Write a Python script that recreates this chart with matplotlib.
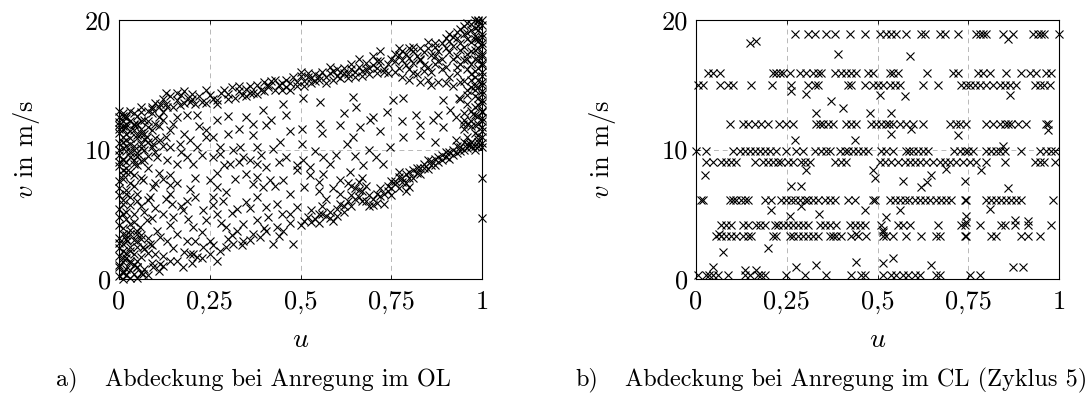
import matplotlib
matplotlib.use("Agg")
import matplotlib.pyplot as plt

plt.rcParams['mathtext.fontset'] = 'cm'
plt.rcParams['axes.formatter.use_mathtext'] = True

# ---------------- Panel a data (u, v) ----------------
a_left = [(0.00,0.2),(0.01,0.5),(0.02,0.3),(0.00,0.9),(0.03,0.7),(0.01,1.3),(0.04,1.1),(0.00,1.8),(0.02,1.6),(0.05,1.4),
          (0.01,2.2),(0.03,2.5),(0.00,2.8),(0.02,3.1),(0.05,2.9),(0.01,3.5),(0.03,3.8),(0.00,4.2),(0.02,4.6),(0.04,4.4),
          (0.01,5.0),(0.00,5.4),(0.03,5.7),(0.01,6.1),(0.00,6.5),(0.02,6.9),(0.04,7.2),(0.00,7.6),(0.01,8.0),(0.03,8.3),
          (0.00,8.7),(0.02,9.0),(0.05,8.8),(0.01,9.3),(0.00,9.6),(0.03,9.8),(0.01,10.1),(0.04,10.3),(0.00,10.5),(0.02,10.7),
          (0.05,10.9),(0.01,11.0),(0.00,11.3),(0.03,11.4),(0.02,11.7),(0.00,11.9),(0.01,12.2),(0.04,12.0),(0.00,12.5),(0.02,12.4),
          (0.01,12.8),(0.06,11.6),(0.07,12.3),(0.05,12.6),(0.08,13.0),(0.06,13.3),(0.09,12.8),(0.07,11.2),(0.06,10.1),(0.08,10.6),
          (0.05,9.5),(0.07,9.2),(0.06,7.8),(0.05,6.6),(0.07,5.2),(0.06,3.4),(0.08,2.0),(0.07,0.8),(0.09,1.2),(0.03,0.1),
          (0.00,10.0),(0.01,11.6),(0.02,12.0),(0.00,12.1),
          (0.02,8.6),(0.04,8.9),(0.06,9.1),(0.01,9.2),(0.03,9.4),(0.05,9.7),(0.08,9.5),(0.02,9.9),(0.04,10.0),(0.06,10.4),
          (0.09,10.2),(0.01,10.6),(0.03,10.9),(0.07,10.8),(0.10,10.9),(0.02,11.2),(0.04,11.5),(0.06,11.3),(0.09,11.5),(0.01,11.8),
          (0.03,12.2),(0.05,12.0),(0.08,12.2),(0.10,12.0),(0.02,12.6),(0.04,12.8),(0.06,12.9),(0.11,12.5),(0.12,12.9),(0.03,13.0),
          (0.00,13.0),(0.01,12.6),(0.05,11.1),(0.07,10.0),(0.03,10.4),(0.00,9.0),(0.01,8.4),(0.04,9.2),(0.10,9.8),(0.12,10.3),
          (0.13,11.0),(0.11,11.8),(0.14,11.5),(0.15,12.0),(0.09,13.3),(0.04,11.9),(0.02,10.3),(0.06,12.2),(0.08,11.7),(0.00,11.6),
          (0.01,0.0),(0.02,0.8),(0.04,0.4),(0.05,0.9),(0.00,1.1),(0.03,1.2),(0.06,0.5),(0.01,1.6),(0.04,1.9),(0.06,1.7),
          (0.02,2.0),(0.00,2.4),(0.03,2.2),(0.05,2.5),(0.07,2.3),(0.01,2.7),(0.04,3.0),(0.02,3.4),(0.06,3.1),(0.00,3.2),
          (0.03,3.5),(0.01,3.9),(0.05,3.7),(0.08,3.2),(0.09,2.6),(0.10,1.9),(0.11,0.6),(0.12,1.0),(0.08,0.3),(0.05,0.1),
          (0.00,4.8),(0.02,5.2),(0.04,5.0),(0.01,5.8),(0.03,6.3),(0.05,6.0),(0.02,6.6),(0.00,7.0),(0.03,7.4),(0.01,7.7),
          (0.04,8.0),(0.02,8.3),(0.06,5.6),(0.08,6.1),(0.09,4.7),(0.10,7.4),(0.11,8.2),(0.08,8.6)]

a_upper = [(0.10,13.6),(0.12,13.9),(0.14,14.1),(0.16,13.8),(0.17,14.2),(0.19,14.0),(0.20,14.3),(0.22,14.1),(0.23,13.7),(0.25,14.2),
           (0.26,13.9),(0.28,14.4),(0.29,14.6),(0.30,14.3),(0.31,14.8),(0.33,14.5),(0.34,14.2),(0.35,14.7),(0.36,14.9),(0.37,14.4),
           (0.38,15.0),(0.39,14.6),(0.40,15.2),(0.41,14.8),(0.42,15.3),(0.44,15.0),(0.45,14.6),(0.46,15.4),(0.47,15.1),(0.48,15.6),
           (0.49,15.2),(0.50,15.7),(0.51,15.3),(0.52,15.9),(0.53,15.5),(0.54,15.8),(0.55,15.4),(0.56,16.0),(0.57,15.6),(0.58,15.9),
           (0.59,16.1),(0.60,15.7),(0.61,16.0),(0.62,16.3),(0.63,15.8),(0.64,16.2),(0.65,16.0),(0.66,16.4),(0.67,16.1),(0.68,16.7),
           (0.69,16.3),(0.70,16.5),(0.71,15.9),(0.72,16.8),(0.73,16.2),(0.74,16.6),(0.75,17.0),(0.76,16.8),(0.77,17.3),(0.78,16.9),
           (0.79,17.4),(0.80,17.1),(0.81,17.6),(0.82,17.2),(0.83,17.0),(0.84,17.5),(0.85,17.8),(0.86,17.3),(0.87,17.9),(0.88,17.6),
           (0.89,18.2),(0.90,17.8),(0.91,18.4),(0.92,18.0),(0.93,18.6),(0.94,18.2),(0.95,18.9),(0.96,18.5),(0.97,19.2),(0.98,18.8),
           (0.99,19.5),(0.97,19.7),(0.98,20.0),(0.99,19.9),
           (0.76,16.0),(0.78,15.6),(0.80,16.2),(0.82,15.8),(0.84,16.5),(0.86,16.0),(0.88,16.8),(0.90,16.4),(0.92,17.0),(0.94,16.6),
           (0.96,17.4),(0.85,15.4),(0.88,15.2),(0.91,15.6),(0.93,15.9),(0.95,15.3),(0.97,15.8),(0.79,16.5),(0.83,16.9),(0.87,17.2),
           (0.91,17.5),(0.94,17.7),(0.89,16.2),(0.76,17.4),(0.80,17.8),(0.70,17.2),(0.66,17.0),(0.72,17.6),
           (0.09,13.1),(0.11,13.3),(0.13,13.5),(0.15,13.3),(0.18,13.6),(0.21,13.5),(0.24,13.6),(0.27,13.8),(0.30,13.9),(0.32,14.0),
           (0.35,14.1),(0.38,14.3),(0.40,14.5),(0.43,14.6),(0.45,15.1),(0.47,14.6),(0.49,14.9),(0.51,14.9),(0.53,15.1),(0.55,15.7),
           (0.57,15.1),(0.59,15.4),(0.61,15.5),(0.63,15.5),(0.65,15.6),(0.67,15.7),(0.69,15.8),(0.71,16.3),(0.73,16.0),(0.74,15.9),
           (0.13,14.4),(0.18,14.5),(0.24,14.6),(0.33,14.9),(0.43,15.4),(0.50,16.0),(0.58,16.4),(0.64,16.6),(0.71,16.8),(0.27,13.5),
           (0.36,14.4),(0.41,15.0),(0.52,15.6),(0.60,16.2),(0.68,16.2),(0.20,13.9),(0.16,14.4),(0.46,14.8),(0.54,15.3),(0.62,15.9),
           (0.77,16.3),(0.81,16.7),(0.85,16.4),(0.89,17.0),(0.93,17.2),(0.95,17.9),(0.97,18.3),(0.99,18.6),(0.96,19.0),(0.98,19.4),
           (0.95,19.5),(0.93,19.1),(0.91,18.9),(0.90,18.6),(0.92,18.7),(0.94,19.3),(0.96,19.8),(0.99,20.0),(1.00,20.0),(0.87,18.2),
           (0.85,18.3),(0.83,17.8),(0.81,17.9),(0.78,17.6),(0.77,17.8),(0.80,15.4),(0.83,15.2),(0.86,15.0),(0.90,15.1),(0.92,14.9),
           (0.94,15.2),(0.96,14.6),(0.98,14.9),(0.93,16.4),(0.95,16.9),(0.97,16.6),(0.99,17.2),(0.87,16.6),(0.84,16.1),(0.81,15.9)]

a_right = [(1.00,10.2),(0.99,10.6),(1.00,11.0),(0.98,11.3),(1.00,11.7),(0.99,12.0),(1.00,12.4),(0.98,12.7),(1.00,13.0),(0.99,13.4),
           (1.00,13.8),(0.98,14.1),(1.00,14.5),(0.99,14.8),(1.00,15.2),(0.98,15.6),(1.00,16.0),(0.99,16.3),(1.00,16.7),(0.98,17.0),
           (1.00,17.4),(0.99,17.8),(1.00,18.2),(0.98,18.5),(1.00,18.9),(0.99,19.2),(1.00,19.6),(0.97,12.2),(0.96,13.5),(0.97,14.8),
           (0.96,16.2),(0.97,17.6),(0.96,11.0),(1.00,7.8),(1.00,4.7),(0.95,12.8),(0.94,13.9),(0.95,11.6),
           (1.00,10.5),(0.99,11.1),(1.00,11.4),(0.98,11.9),(1.00,12.2),(0.99,12.6),(1.00,12.9),(0.98,13.3),(1.00,13.6),(0.99,14.0),
           (1.00,14.3),(0.98,14.6),(1.00,15.0),(0.99,15.4),(1.00,15.7),(0.98,16.1),(1.00,16.5),(0.99,16.9),(1.00,17.2),(0.98,17.7),
           (1.00,18.0),(0.99,18.4),(1.00,18.7),(0.97,13.0),(0.96,14.2),(0.97,15.4),(0.96,17.0),(0.97,11.8),(0.95,12.3),(0.96,12.0)]

a_chain = [(0.74,7.2),(0.75,7.6),(0.76,7.3),(0.77,7.9),(0.78,7.5),(0.79,8.1),(0.80,7.8),(0.81,8.4),(0.82,8.2),(0.83,8.6),
           (0.84,8.9),(0.85,8.5),(0.86,9.1),(0.87,9.3),(0.88,9.0),(0.89,9.6),(0.90,9.4),(0.91,9.8),(0.92,10.0),(0.93,9.7),
           (0.94,10.2),(0.95,10.0),(0.96,10.4),(0.97,10.6),(0.98,10.3),(0.99,10.8),(0.77,7.0),(0.79,6.8),(0.80,7.1),(0.75,6.5),
           (0.50,4.2),(0.52,4.8),(0.53,5.3),(0.54,4.6),(0.55,5.0),(0.56,5.6),(0.57,4.9),(0.58,5.2),(0.59,4.5),(0.60,5.4),
           (0.61,5.8),(0.62,5.2),(0.63,6.0),(0.64,6.5),(0.65,7.0),(0.66,6.3),(0.66,7.5),(0.67,6.8),(0.68,7.2),(0.68,6.0),
           (0.69,5.6),(0.70,6.2),(0.71,5.9),(0.72,6.4),(0.73,5.8),(0.63,7.4),(0.61,6.6),(0.59,7.0),(0.57,6.2),(0.55,6.8),
           (0.75,7.0),(0.76,7.6),(0.78,7.8),(0.80,8.3),(0.82,8.6),(0.84,8.6),(0.86,8.8),(0.88,9.4),(0.90,9.8),(0.92,9.6),
           (0.94,9.9),(0.96,10.1),(0.98,10.0),(0.99,10.3),(0.74,6.8),(0.73,6.6),(0.72,7.0),(0.77,8.3),(0.79,7.4),(0.81,7.8),
           (0.83,8.1),(0.85,9.2),(0.87,8.8),(0.89,9.2),(0.91,9.3),(0.93,10.3),(0.95,10.6),(0.97,10.2),
           (0.51,4.5),(0.53,4.4),(0.55,4.3),(0.56,5.0),(0.58,4.7),(0.60,4.9),(0.62,5.6),(0.64,5.6),(0.65,6.2),(0.67,6.0),
           (0.69,6.5),(0.70,5.7),(0.71,6.6),(0.66,6.9),(0.64,7.2),(0.67,7.8)]

a_inner = [(0.122,12.26),(0.159,12.52),(0.186,12.65),(0.214,12.65),(0.241,11.48),(0.269,12.26),(0.301,11.23),(0.351,12.52),
           (0.406,11.87),(0.461,12.65),(0.503,11.61),(0.553,12.0),(0.608,11.87),(0.663,11.74),(0.70,12.52),(0.737,12.9),
           (0.691,12.26),(0.819,12.65),(0.865,12.26),(0.893,11.74),(0.929,12.52),(0.948,12.0),(0.975,12.77),
           (0.397,13.03),(0.452,13.55),(0.507,13.94),(0.553,13.68),(0.645,14.06),(0.654,13.29),(0.755,13.81),(0.783,13.94),
           (0.893,13.81),(0.938,13.94),(0.911,13.03),(0.131,13.29),(0.113,13.55),(0.168,13.42),(0.195,13.68),
           (0.076,10.97),(0.094,10.45),(0.113,10.71),(0.14,10.19),(0.168,10.45),(0.195,10.71),(0.214,10.19),(0.241,10.97),
           (0.278,10.19),(0.315,9.94),(0.333,10.19),(0.37,11.1),(0.379,10.19),(0.425,10.06),(0.443,10.58),(0.503,10.45),
           (0.627,10.45),(0.645,10.97),(0.746,10.19),(0.783,10.97),(0.828,11.1),(0.87,10.58),(0.929,10.71),(0.966,10.45),
           (0.104,9.42),(0.131,9.16),(0.159,8.9),(0.186,9.42),(0.205,8.9),(0.26,9.42),(0.278,9.68),(0.306,8.9),(0.342,9.42),
           (0.361,9.16),(0.379,8.9),(0.406,8.65),(0.461,9.42),(0.507,9.16),(0.526,8.65),(0.562,9.42),(0.599,9.55),(0.672,8.77),
           (0.709,9.42),(0.728,8.9),
           (0.067,7.61),(0.094,7.1),(0.14,8.0),(0.14,7.23),(0.195,6.97),(0.25,7.61),(0.269,7.1),(0.296,6.71),(0.351,8.13),
           (0.37,7.35),(0.397,7.1),(0.416,7.61),(0.452,7.61),(0.489,8.39),(0.526,8.0),(0.562,8.13),(0.608,7.61),(0.636,8.26),
           (0.085,6.32),(0.14,6.58),(0.145,5.81),(0.186,6.06),(0.232,5.29),(0.26,6.32),(0.287,6.06),(0.324,5.42),(0.351,5.94),
           (0.379,6.32),(0.406,5.55),(0.434,5.81),(0.471,5.03),(0.489,5.55),
           (0.03,4.26),(0.058,4.0),(0.076,4.52),(0.104,3.74),(0.122,5.03),(0.15,4.77),(0.177,5.29),(0.205,4.0),(0.241,4.52),
           (0.269,5.03),(0.296,4.0),(0.324,3.74),(0.342,4.26),(0.379,4.52),(0.406,3.74),(0.434,4.0),(0.452,3.74),
           (0.021,2.97),(0.049,3.48),(0.067,2.45),(0.085,2.71),(0.113,3.23),(0.131,2.97),(0.159,3.48),(0.186,2.97),(0.205,1.94),
           (0.232,2.45),(0.25,2.97),(0.278,2.19),(0.296,2.45),(0.315,2.71),(0.342,2.97),(0.37,3.48),(0.388,3.23),(0.425,2.71),
           (0.48,2.71),
           (0.012,0.65),(0.03,1.42),(0.049,0.9),(0.067,0.39),(0.094,0.9),(0.113,1.16),(0.14,1.42),(0.177,0.9),(0.195,1.94),
           (0.214,1.68),(0.25,1.94),(0.269,1.42),
           (0.18,11.2),(0.22,11.8),(0.26,11.0),(0.30,12.6),(0.33,11.6),(0.37,12.0),(0.42,12.3),(0.47,11.4),(0.56,11.3),(0.62,12.8),
           (0.72,11.4),(0.78,12.2),(0.83,11.9),(0.88,12.7),(0.17,9.8),(0.23,9.6),(0.29,8.8),(0.33,9.0),(0.39,9.6),(0.44,9.0),
           (0.49,8.8),(0.54,9.9),(0.58,8.9),(0.65,9.5),(0.69,10.0),(0.12,7.7),(0.16,7.4),(0.21,7.8),(0.27,8.2),(0.32,7.7),
           (0.38,7.9),(0.43,7.2),(0.47,6.6),(0.51,7.1),(0.55,7.5),(0.10,5.5),(0.13,6.2),(0.17,5.6),(0.21,6.3),(0.26,5.7),
           (0.31,5.1),(0.36,5.5),(0.41,4.8),(0.45,5.0),(0.14,4.2),(0.19,4.6),(0.23,3.6),(0.28,4.3),(0.31,3.4),(0.36,3.0),
           (0.40,3.9),(0.44,3.3),(0.47,4.3),(0.15,2.4),(0.18,2.1),(0.21,2.9),(0.26,2.6),(0.30,3.1),(0.34,2.6),(0.16,1.4),
           (0.20,1.2),(0.23,1.6),(0.12,1.8)]

# ---------------- Panel b data ----------------
b_levels = [18.9, 15.9, 15.0, 12.0, 9.9, 9.0, 6.1, 4.2, 3.3, 0.3]
b_u_rows = [
    [.272,.309,.327,.359,.382,.423,.465,.506,.524,.538,.552,.579,.621,.630,.671,.685,.722,.772,.781,.791,.800,.846,.873,.928,.942,.951,.960,1.0],
    [.033,.047,.065,.212,.221,.231,.240,.258,.286,.304,.322,.336,.345,.382,.400,.414,.428,.442,.474,.488,.534,.543,.556,.635,.708,.722,.777,.791,.809,.855,.896,.919,.938,.965,.979],
    [.006,.019,.065,.088,.102,.152,.208,.263,.309,.327,.336,.419,.428,.465,.488,.501,.515,.534,.547,.561,.625,.667,.731,.745,.754,.768,.781,.800,.818,.837,.850,.864,.882,.933,.947,.960,.974],
    [.093,.129,.143,.162,.180,.198,.230,.249,.267,.331,.341,.350,.364,.377,.414,.428,.442,.483,.497,.510,.524,.533,.543,.561,.579,.598,.625,.699,.717,.726,.744,.800,.818,.837,.850,.860,.869,.887,.910,.965,.970],
    [.001,.028,.102,.120,.134,.148,.162,.175,.189,.203,.221,.249,.276,.295,.327,.345,.359,.368,.396,.410,.419,.433,.446,.460,.474,.510,.524,.543,.579,.588,.597,.612,.625,.639,.712,.726,.740,.749,.763,.800,.814,.827,.837,.850,.896,.947,.965,.979,.988],
    [.028,.047,.070,.084,.097,.111,.162,.184,.198,.212,.226,.235,.253,.267,.290,.299,.313,.382,.400,.414,.506,.520,.538,.556,.575,.589,.602,.616,.634,.653,.671,.685,.699,.717,.736,.754,.772,.800,.850,.933,.947,.960,.988],
    [.015,.019,.093,.102,.111,.125,.134,.143,.189,.207,.235,.249,.263,.272,.286,.299,.309,.322,.336,.354,.368,.382,.419,.437,.488,.492,.534,.547,.561,.575,.588,.602,.616,.630,.644,.662,.676,.690,.703,.740,.745,.800,.814,.827,.841,.855,.869,.882,.896,.983],
    [.070,.084,.097,.129,.143,.166,.175,.189,.217,.226,.240,.253,.267,.281,.295,.309,.341,.354,.368,.386,.423,.437,.451,.465,.510,.556,.570,.589,.667,.731,.740,.781,.841,.850,.878,.915,.979],
    [.056,.070,.084,.097,.111,.129,.143,.152,.212,.221,.258,.267,.281,.295,.309,.322,.336,.368,.377,.386,.400,.428,.446,.469,.515,.524,.543,.579,.621,.662,.671,.740,.745,.814,.827,.896,.915,.947],
    [.006,.028,.037,.047,.061,.088,.134,.148,.171,.180,.189,.249,.299,.359,.428,.455,.465,.515,.538,.552,.570,.584,.602,.616,.662,.671,.754,.781],
]
b_extra = [(.86,18.5),(.148,18.2),(.166,18.4),(.391,17.4),(.589,17.2),
           (.263,14.5),(.304,14.3),(.506,14.2),(.575,14.1),(.864,14.2),(.373,13.75),(.405,13.2),(.331,12.8),(.478,12.8),(.538,12.8),
           (.970,11.5),(.593,11.6),(.272,10.7),(.437,10.7),(.538,11.2),(.722,11.1),(.846,10.3),
           (.304,8.4),(.69,8.5),(.786,8.4),(.488,8.4),(.492,7.8),(.024,8.0),
           (.263,7.2),(.290,7.2),(.57,7.6),(.62,7.1),(.648,8.0),(.635,7.5),(.74,7.6),(.86,7.05),
           (.207,5.3),(.258,4.9),(.29,5.6),(.34,5.0),(.465,5.3),(.524,4.8),(.561,5.3),(.745,4.9),(.745,4.4),(.809,5.4),
           (.878,4.55),(.915,4.5),(.515,3.8),(.063,3.5),(.442,3.5),(.515,3.6),
           (.074,2.1),(.198,2.4),
           (.442,1.34),(.515,1.2),(.543,1.6),(.331,1.08),(.276,0.95),(.047,0.95),(.166,0.7),(.134,0.7),(.648,1.1),(.873,0.95),(.901,0.95)]

x_ticks = [0, 0.25, 0.5, 0.75, 1]
x_ticklabels = ['0', '0,25', '0,5', '0,75', '1']
y_ticks = [0, 10, 20]
y_ticklabels = ['0', '10', '20']
caption_tags = ['a)', 'b)']
caption_texts = ['Abdeckung bei Anregung im OL', 'Abdeckung bei Anregung im CL (Zyklus 5)']

W, H = 1089, 394
fig = plt.figure(figsize=(W / 100, H / 100), dpi=100)
ax_a = fig.add_axes([119/W, 1-279/H, 363/W, 259/H])
ax_b = fig.add_axes([696/W, 1-279/H, 363/W, 259/H])

FS = 19
mk = dict(marker='x', linestyle='none', color='black', markersize=5.5, markeredgewidth=0.8, clip_on=False)

pts_a = a_left + a_upper + a_right + a_chain + a_inner
ax_a.plot([p[0] for p in pts_a], [p[1] for p in pts_a], **mk)

bu, bv = [], []
for lev, row in zip(b_levels, b_u_rows):
    bu += row
    bv += [lev] * len(row)
bu += [p[0] for p in b_extra]
bv += [p[1] for p in b_extra]
ax_b.plot(bu, bv, **mk)

tag_x = [56, 575]
text_x = [105, 625]
for i, ax in enumerate([ax_a, ax_b]):
    ax.set_xlim(0, 1)
    ax.set_ylim(0, 20)
    ax.set_xticks(x_ticks)
    ax.set_xticklabels(x_ticklabels, fontfamily='cmr10', fontsize=FS)
    ax.set_yticks(y_ticks)
    ax.set_yticklabels(y_ticklabels, fontfamily='cmr10', fontsize=FS)
    ax.tick_params(direction='in', length=3, width=0.6, top=True, right=True)
    ax.tick_params(axis='x', pad=8)
    ax.tick_params(axis='y', pad=6)
    ax.grid(True, color='#b8b8b8', linestyle=(0, (5, 4)), linewidth=0.7)
    ax.set_axisbelow(True)
    for s in ax.spines.values():
        s.set_linewidth(0.8)
    ax.set_xlabel('$u$', fontsize=FS + 1, va='center')
    ax.xaxis.set_label_coords(0.5, (279 - 339) / 259)
    ax.set_ylabel('$v$ in m/s', fontsize=FS, fontfamily='cmr10', va='center', ha='center')
    ax.yaxis.set_label_coords((26 - 119) / 363, 0.5)
    fig.text(tag_x[i] / W, 1 - 380 / H, caption_tags[i], fontfamily='cmr10', fontsize=17.5, ha='left', va='center')
    fig.text(text_x[i] / W, 1 - 380 / H, caption_texts[i], fontfamily='cmr10', fontsize=17.5, ha='left', va='center')

fig.savefig('out.png', dpi=100)
